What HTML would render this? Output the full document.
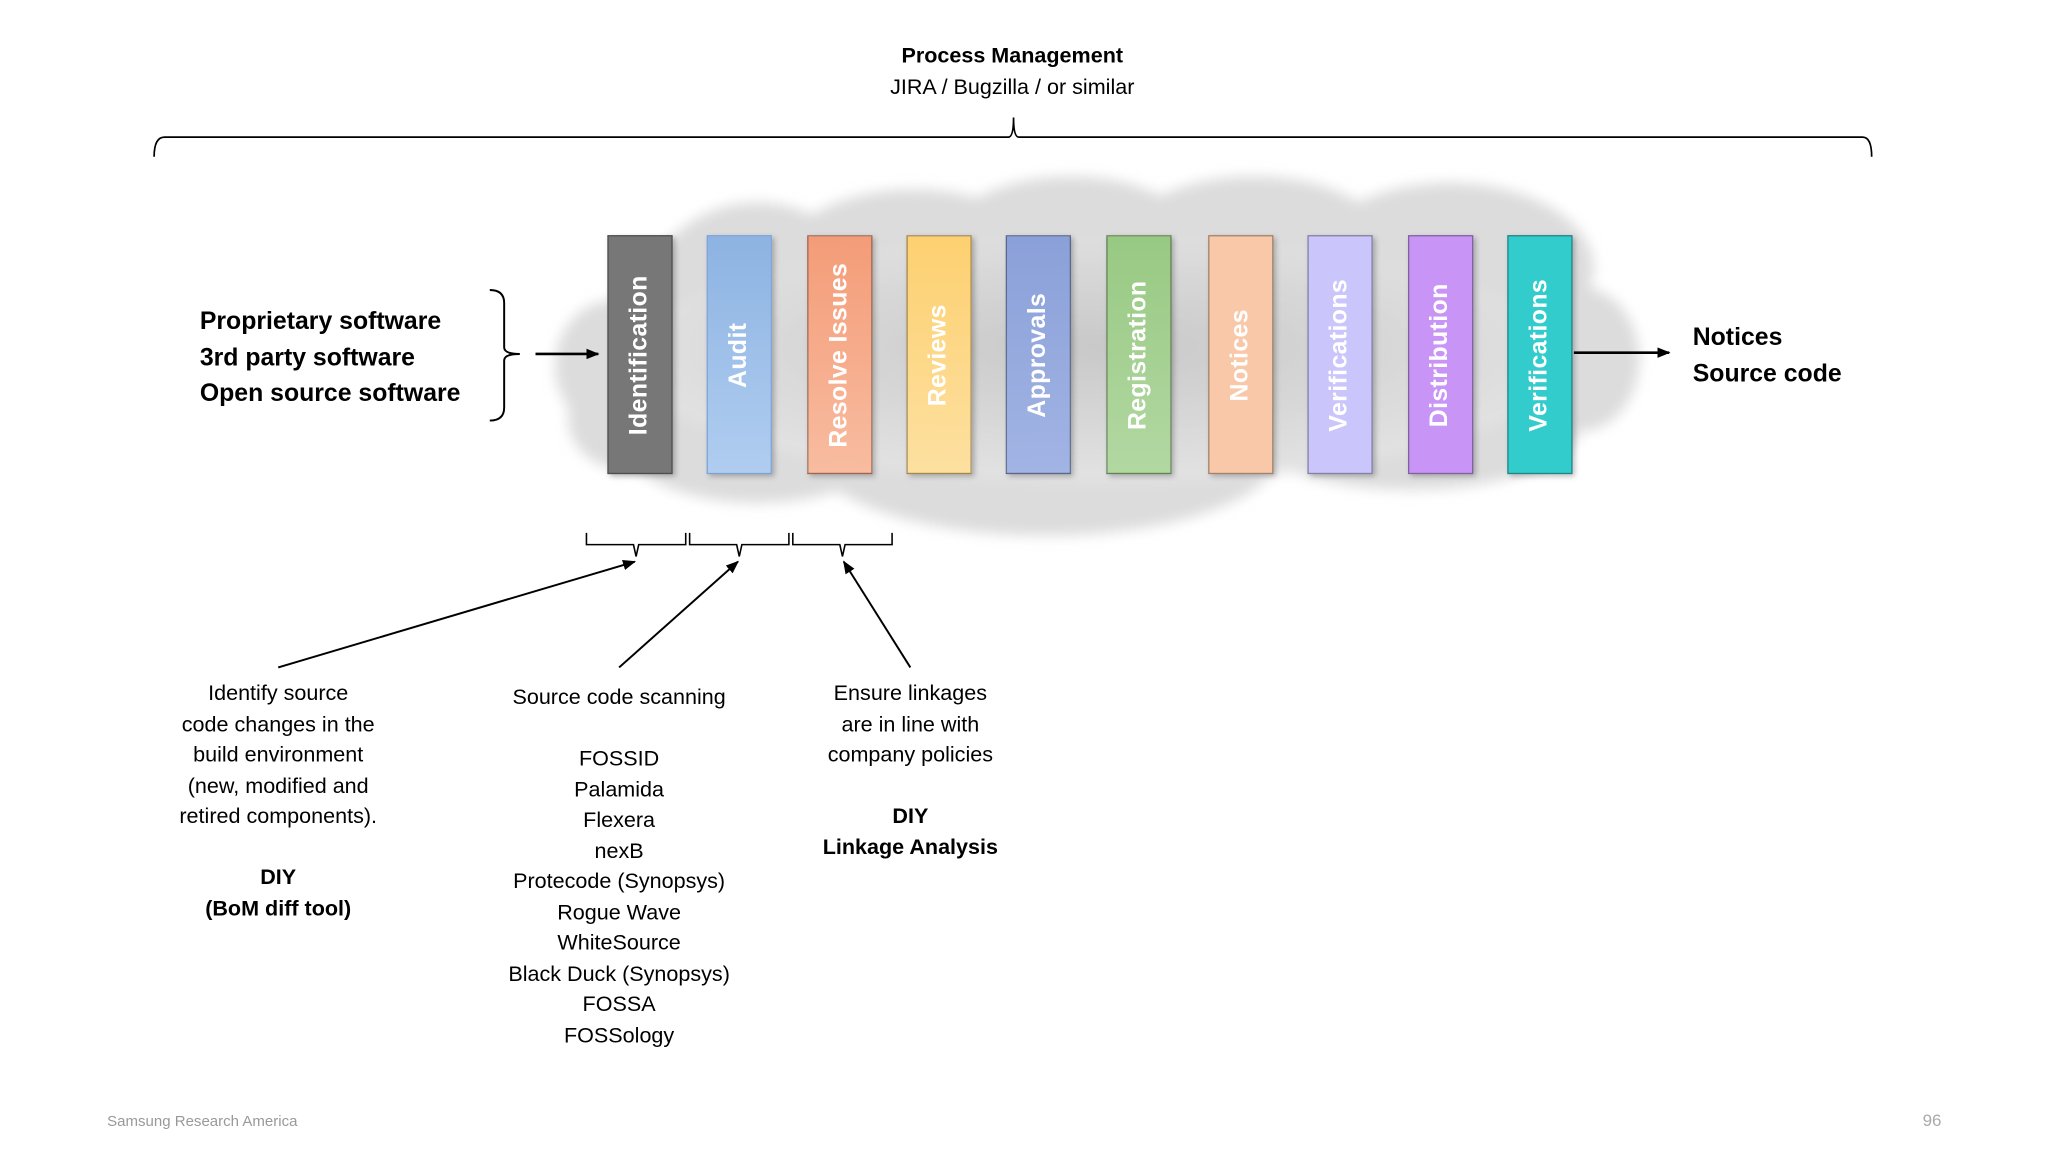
<!DOCTYPE html>
<html><head><meta charset="utf-8"><style>
html,body{margin:0;padding:0;background:#fff;width:2048px;height:1152px;overflow:hidden}
#s{position:absolute;left:0;top:0;width:1568px;height:882px;transform:scale(1.30612);transform-origin:0 0;font-family:"Liberation Sans",sans-serif;color:#000}
.t{position:absolute;white-space:nowrap}
.c{text-align:center;transform:translateX(-50%)}
.bar{position:absolute;top:180px;width:50px;height:183px;box-sizing:border-box;border:1px solid rgba(0,0,0,.35);box-shadow:2px 2px 4px rgba(0,0,0,.25)}
.bar span{position:absolute;left:50%;top:50%;transform:translate(-50%,-50%) rotate(-90deg);color:#fff;font-weight:bold;font-size:19px;white-space:nowrap;letter-spacing:0.3px}
.blk{font-size:16.5px;line-height:23.5px}
</style></head><body><div id="s">
<div class="t c" style="left:775px;top:34px;font-size:16.5px;font-weight:bold">Process Management</div>
<div class="t c" style="left:775px;top:58px;font-size:16.5px">JIRA / Bugzilla / or similar</div>
<svg width="1568" height="882" style="position:absolute;left:0;top:0">
<defs><filter id="b" x="-20%" y="-20%" width="140%" height="140%"><feGaussianBlur stdDeviation="5"/></filter>
<radialGradient id="g" cx="50%" cy="45%" r="60%"><stop offset="0" stop-color="#c8c8c8"/><stop offset="1" stop-color="#e6e6e6"/></radialGradient>
<marker id="a" markerWidth="10" markerHeight="8" refX="9" refY="4" orient="auto" markerUnits="userSpaceOnUse"><path d="M0,0 L10,4 L0,8 z" fill="#000"/></marker></defs>
<g fill="#dcdcdc" filter="url(#b)">
<ellipse cx="580" cy="240" rx="90" ry="85"/><ellipse cx="470" cy="280" rx="45" ry="50"/><ellipse cx="480" cy="320" rx="45" ry="40"/>
<ellipse cx="700" cy="210" rx="110" ry="65"/><ellipse cx="820" cy="190" rx="100" ry="55"/>
<ellipse cx="960" cy="185" rx="100" ry="50"/><ellipse cx="1110" cy="205" rx="110" ry="65"/>
<ellipse cx="1210" cy="275" rx="45" ry="55"/><ellipse cx="1080" cy="325" rx="130" ry="50"/>
<ellipse cx="800" cy="345" rx="180" ry="65"/><ellipse cx="580" cy="330" rx="110" ry="55"/>
<ellipse cx="840" cy="275" rx="360" ry="95" fill="url(#g)"/>
</g>
<path d="M118,120 Q118,105 126,105 L772,105 Q776,105 776,90 Q776,105 780,105 L1426,105 Q1433,105 1433,120" fill="none" stroke="#000" stroke-width="1.3"/>
<path d="M375,222 Q386,222 386,232 L386,266 Q386,271 398,271 Q386,271 386,276 L386,312 Q386,322 375,322" fill="none" stroke="#000" stroke-width="1.5"/>
<line x1="410" y1="271" x2="458" y2="271" stroke="#000" stroke-width="2" marker-end="url(#a)"/>
<line x1="1205" y1="270" x2="1278" y2="270" stroke="#000" stroke-width="2" marker-end="url(#a)"/>
<g fill="none" stroke="#000" stroke-width="1.2">
<path d="M449,408 L449,417 L485,417 L487,426 L489,417 L525,417 L525,408"/>
<path d="M528,408 L528,417 L564,417 L566,426 L568,417 L604,417 L604,408"/>
<path d="M607,408 L607,417 L643,417 L645,426 L647,417 L683,417 L683,408"/>
</g>
<g stroke="#000" stroke-width="1.5">
<line x1="213" y1="511" x2="486" y2="430" marker-end="url(#a)"/>
<line x1="474" y1="511" x2="565" y2="430" marker-end="url(#a)"/>
<line x1="697" y1="511" x2="646" y2="430" marker-end="url(#a)"/>
</g>
</svg>
<div class="bar" style="left:465px;background:#777"><span>Identification</span></div>
<div class="bar" style="left:541px;background:linear-gradient(#8db3e2,#b0cdf0);border-color:#7aa3d8"><span>Audit</span></div>
<div class="bar" style="left:618px;background:linear-gradient(#f49c78,#f8bca0)"><span>Resolve Issues</span></div>
<div class="bar" style="left:694px;background:linear-gradient(#fdd071,#fde0a0)"><span>Reviews</span></div>
<div class="bar" style="left:770px;background:linear-gradient(#8aa0d8,#a2b4e4)"><span>Approvals</span></div>
<div class="bar" style="left:847px;background:linear-gradient(#98c983,#b2d8a2)"><span>Registration</span></div>
<div class="bar" style="left:925px;background:#f8c8a8"><span>Notices</span></div>
<div class="bar" style="left:1001px;background:#cac6fc"><span>Verifications</span></div>
<div class="bar" style="left:1078px;background:#c895f7"><span>Distribution</span></div>
<div class="bar" style="left:1154px;background:#33cccc"><span>Verifications</span></div>
<div class="t" style="left:153px;top:233px;font-size:19px;font-weight:bold;line-height:27.5px">Proprietary software<br>3rd party software<br>Open source software</div>
<div class="t" style="left:1296px;top:245px;font-size:19px;font-weight:bold;line-height:27.5px">Notices<br>Source code</div>
<div class="t c blk" style="left:213px;top:520px">Identify source<br>code changes in the<br>build environment<br>(new, modified and<br>retired components).<br><br><b>DIY<br>(BoM diff tool)</b></div>
<div class="t c blk" style="left:474px;top:523px">Source code scanning<br><br>FOSSID<br>Palamida<br>Flexera<br>nexB<br>Protecode (Synopsys)<br>Rogue Wave<br>WhiteSource<br>Black Duck (Synopsys)<br>FOSSA<br>FOSSology</div>
<div class="t c blk" style="left:697px;top:520px">Ensure linkages<br>are in line with<br>company policies<br><br><b>DIY<br>Linkage Analysis</b></div>
<div class="t" style="left:82px;top:853px;font-size:11.5px;color:#999">Samsung Research America</div>
<div class="t" style="left:1472px;top:850px;font-size:13px;color:#aaa">96</div>
</div></body></html>
